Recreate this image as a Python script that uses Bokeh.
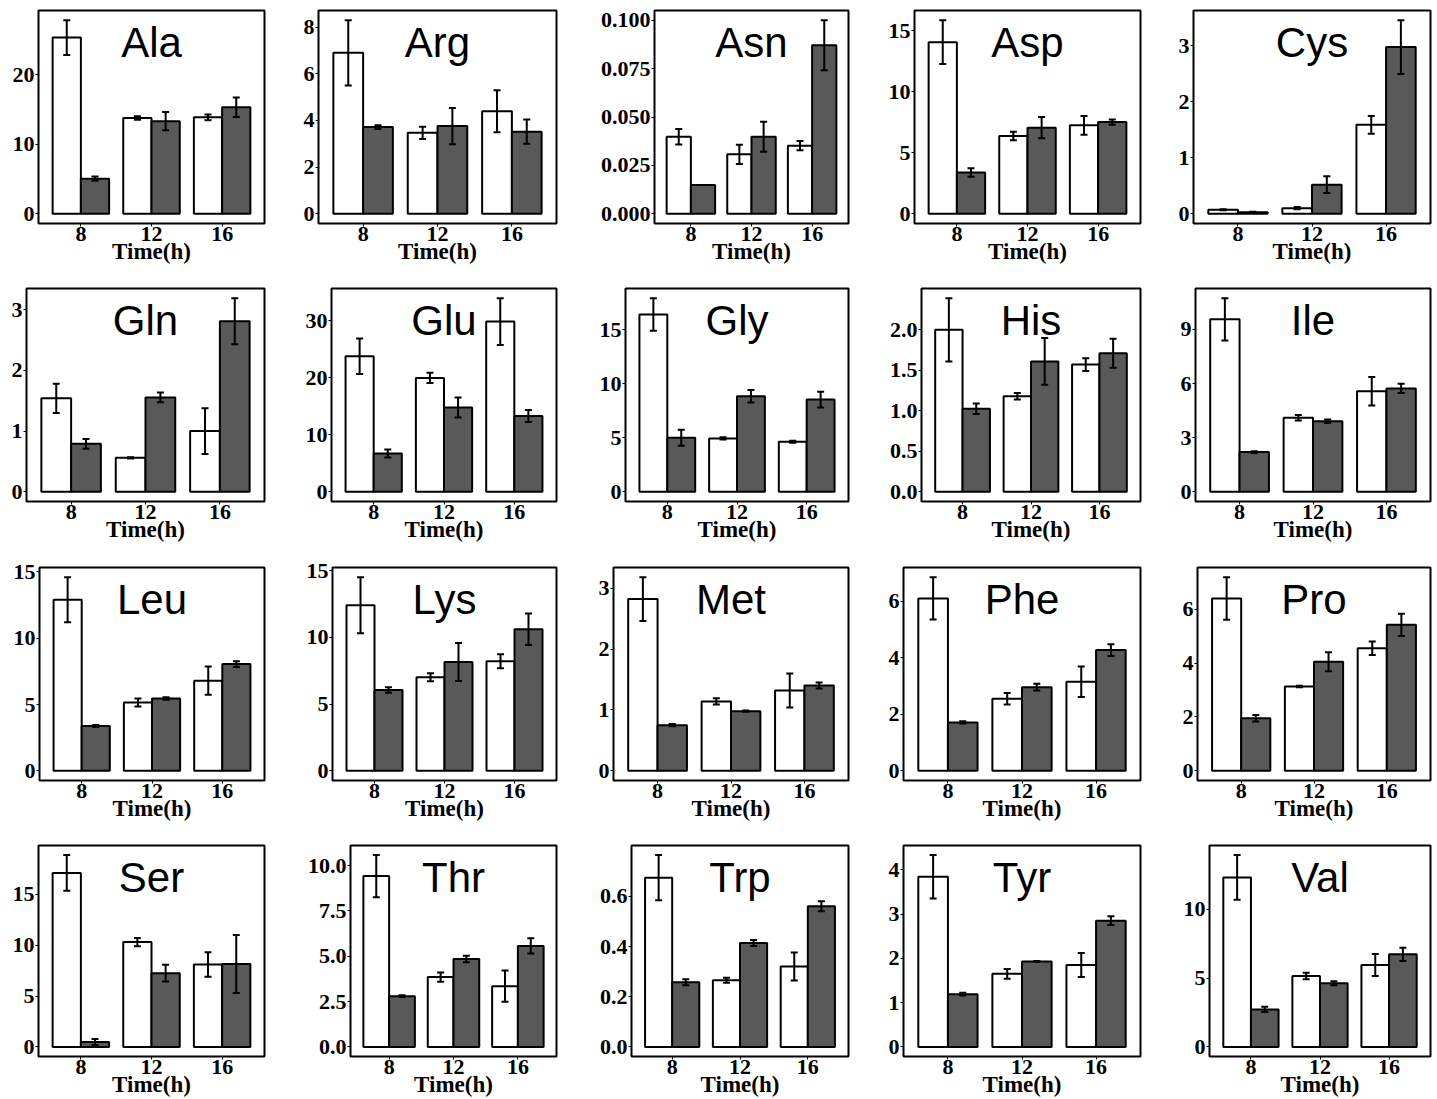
from bokeh.plotting import figure
from bokeh.layouts import column, row
from bokeh.models import ColumnDataSource, Whisker, TeeHead, Range1d, FixedTicker, Label
from bokeh.embed import file_html
from bokeh.resources import INLINE

names = ["Ala", "Arg", "Asn", "Asp", "Cys",
         "Gln", "Glu", "Gly", "His", "Ile",
         "Leu", "Lys", "Met", "Phe", "Pro",
         "Ser", "Thr", "Trp", "Tyr", "Val"]
times = ["8", "12", "16"]

white_mean = [
    [25.3, 13.75, 13.85], [6.9, 3.47, 4.40], [0.0398, 0.0307, 0.0352], [14.07, 6.38, 7.25], [0.072, 0.10, 1.59],
    [1.54, 0.56, 1.0], [23.8, 20.0, 29.9], [16.4, 4.94, 4.63], [2.0, 1.18, 1.57], [9.56, 4.1, 5.57],
    [12.9, 5.15, 6.8], [12.4, 7.0, 8.2], [2.82, 1.14, 1.32], [6.1, 2.55, 3.15], [6.4, 3.13, 4.55],
    [17.1, 10.3, 8.1], [9.42, 3.85, 3.35], [0.675, 0.266, 0.321], [3.84, 1.65, 1.85], [12.3, 5.15, 5.95],
]
white_err = [
    [2.5, 0.25, 0.4], [1.4, 0.26, 0.9], [0.004, 0.005, 0.0024], [1.8, 0.35, 0.76], [0.01, 0.02, 0.16],
    [0.24, 0.01, 0.375], [3.1, 0.9, 4.1], [1.5, 0.1, 0.1], [0.39, 0.04, 0.08], [1.17, 0.15, 0.79],
    [1.7, 0.3, 1.06], [2.1, 0.3, 0.52], [0.36, 0.05, 0.28], [0.75, 0.2, 0.54], [0.79, 0.03, 0.25],
    [1.75, 0.4, 1.2], [1.16, 0.25, 0.86], [0.09, 0.01, 0.056], [0.49, 0.11, 0.27], [1.62, 0.24, 0.8],
]
dark_mean = [
    [5.05, 13.3, 15.3], [3.72, 3.76, 3.52], [0.0149, 0.0398, 0.0871], [3.39, 7.06, 7.52], [0.03, 0.52, 2.98],
    [0.79, 1.555, 2.81], [6.73, 14.8, 13.33], [5.0, 8.83, 8.53], [1.024, 1.61, 1.71], [2.2, 3.91, 5.73],
    [3.38, 5.45, 8.05], [6.05, 8.15, 10.6], [0.75, 0.98, 1.40], [1.71, 2.96, 4.27], [1.95, 4.05, 5.42],
    [0.48, 7.25, 8.15], [2.8, 4.85, 5.57], [0.258, 0.414, 0.561], [1.19, 1.93, 2.85], [2.72, 4.62, 6.72],
]
dark_err = [
    [0.3, 1.3, 1.4], [0.08, 0.78, 0.52], [0.0, 0.0078, 0.0129], [0.35, 0.87, 0.22], [0.005, 0.15, 0.48],
    [0.08, 0.08, 0.38], [0.7, 1.75, 1.05], [0.74, 0.58, 0.73], [0.065, 0.29, 0.18], [0.05, 0.1, 0.26],
    [0.07, 0.1, 0.22], [0.2, 1.43, 1.18], [0.02, 0.01, 0.05], [0.04, 0.12, 0.21], [0.12, 0.35, 0.41],
    [0.3, 0.83, 2.85], [0.05, 0.18, 0.42], [0.012, 0.012, 0.02], [0.03, 0.01, 0.1], [0.19, 0.15, 0.48],
]
y_ticks = [
    [0, 10, 20], [0, 2, 4, 6, 8], [0, 0.025, 0.05, 0.075, 0.1], [0, 5, 10, 15], [0, 1, 2, 3],
    [0, 1, 2, 3], [0, 10, 20, 30], [0, 5, 10, 15], [0, 0.5, 1.0, 1.5, 2.0], [0, 3, 6, 9],
    [0, 5, 10, 15], [0, 5, 10, 15], [0, 1, 2, 3], [0, 2, 4, 6], [0, 2, 4, 6],
    [0, 5, 10, 15], [0, 2.5, 5.0, 7.5, 10.0], [0, 0.2, 0.4, 0.6], [0, 1, 2, 3, 4], [0, 5, 10],
]
y_decimals = [0, 0, 3, 0, 0,
              0, 0, 0, 1, 0,
              0, 0, 0, 0, 0,
              0, 1, 1, 0, 0]
x_label = "Time(h)"

# layout (pixels)
left_borders = [38, 26, 70, 38, 25,
                26, 39, 41, 45, 27,
                39, 40, 29, 27, 29,
                38, 58, 47, 27, 41]
col_w = [292, 292, 292, 292, 269]
right_b = [28, 28, 28, 28, 7]
row_h = [278, 278, 278, 265]
top_b = [10, 10, 11, 11]
FRAME_H = 213

DARK = "#595959"
TICK_FONT = "Liberation Serif"

rows = []
for r in range(4):
    figs = []
    for c in range(5):
        i = r * 5 + c
        M = max([m + e for m, e in zip(white_mean[i], white_err[i])] +
                [m + e for m, e in zip(dark_mean[i], dark_err[i])])
        y0, y1 = -0.05 * M, 1.05 * M
        p = figure(width=col_w[c], height=row_h[r], output_backend="svg", toolbar_location=None,
                   x_range=Range1d(0.4, 3.6), y_range=Range1d(y0, y1),
                   min_border_left=left_borders[i], min_border_right=right_b[c],
                   min_border_top=top_b[r], min_border_bottom=row_h[r] - top_b[r] - FRAME_H)
        p.xgrid.visible = False
        p.ygrid.visible = False
        p.outline_line_color = "black"
        p.outline_line_width = 2
        p.background_fill_color = "white"
        p.border_fill_color = "white"

        gx = [k + 1 for k in range(len(times))]
        wsrc = ColumnDataSource(dict(x=[g - 0.2 for g in gx], top=white_mean[i],
                                     upper=[m + e for m, e in zip(white_mean[i], white_err[i])],
                                     lower=[m - e for m, e in zip(white_mean[i], white_err[i])]))
        dsrc = ColumnDataSource(dict(x=[g + 0.2 for g in gx], top=dark_mean[i],
                                     upper=[m + e for m, e in zip(dark_mean[i], dark_err[i])],
                                     lower=[m - e for m, e in zip(dark_mean[i], dark_err[i])]))
        p.vbar(x="x", top="top", bottom=0, width=0.4, source=wsrc,
               fill_color="white", line_color="black", line_width=2)
        p.vbar(x="x", top="top", bottom=0, width=0.4, source=dsrc,
               fill_color=DARK, line_color="black", line_width=2)
        for src in (wsrc, dsrc):
            p.add_layout(Whisker(source=src, base="x", upper="upper", lower="lower",
                                 level="overlay",
                                 line_color="black", line_width=2,
                                 upper_head=TeeHead(size=7, line_width=2, line_color="black"),
                                 lower_head=TeeHead(size=7, line_width=2, line_color="black")))

        # panel title
        ylab = y1 - (32.0 / FRAME_H) * (y1 - y0)
        p.add_layout(Label(x=2.0, y=ylab, text=names[i], text_font="Liberation Sans",
                           text_font_size="42px", text_align="center", text_baseline="middle",
                           text_color="black"))

        # axes
        p.xaxis.ticker = FixedTicker(ticks=gx)
        p.xaxis.major_label_overrides = {g: t for g, t in zip(gx, times)}
        p.yaxis.ticker = FixedTicker(ticks=y_ticks[i])
        d = y_decimals[i]
        p.yaxis.major_label_overrides = {v: f"{v:.{d}f}" for v in y_ticks[i]}
        for ax in (p.xaxis[0], p.yaxis[0]):
            ax.axis_line_color = None
            ax.major_tick_line_color = "black"
            ax.major_tick_line_width = 1
            ax.major_tick_out = 3
            ax.major_tick_in = 0
            ax.minor_tick_line_color = None
            ax.major_label_text_font = TICK_FONT
            ax.major_label_text_font_style = "bold"
            ax.major_label_text_font_size = "22px"
            ax.major_label_text_color = "black"
        p.yaxis.major_label_standoff = 1
        p.xaxis.major_label_standoff = 0
        p.xaxis.axis_label = x_label
        p.xaxis.axis_label_text_font = TICK_FONT
        p.xaxis.axis_label_text_font_style = "bold"
        p.xaxis.axis_label_text_font_size = "23px"
        p.xaxis.axis_label_text_color = "black"
        p.xaxis.axis_label_standoff = -5
        figs.append(p)
    rows.append(row(*figs, spacing=0))

layout = column(*rows, spacing=0)
open("out.html", "w").write(file_html(layout, INLINE))
